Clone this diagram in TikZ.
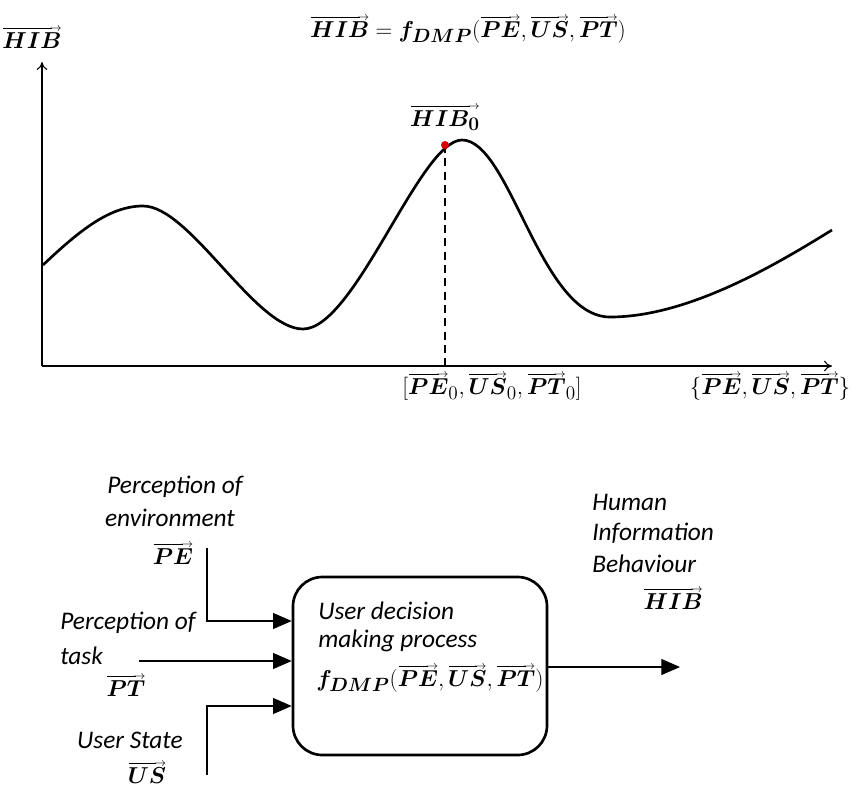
\documentclass[tikz,border=0pt]{standalone}
\usepackage{amsmath,bm}
\usepackage[no-math]{fontspec}
\newfontfamily\labfont{Carlito}
\usetikzlibrary{arrows.meta}
\newsavebox\vvbox
\newcommand{\vv}[1]{\mathord{\sbox\vvbox{$\bm{#1}$}\vbox{\offinterlineskip\hbox to\wd\vvbox{\kern0.5pt\leaders\hrule height 0.45pt depth 0.35pt\hfill\kern-2pt\smash{\raisebox{-2.3pt}{$\scriptscriptstyle\rightarrow$}}}\kern3pt\box\vvbox}}}
\begin{document}
\begin{tikzpicture}[x=0.75pt,y=-0.75pt,
  lab/.style={font=\labfont\itshape\fontsize{19}{22}\selectfont, inner sep=0pt},
  mth/.style={font=\fontsize{19}{22}\selectfont, inner sep=0pt},
  vec/.style={mth, text depth=0pt},
  axis/.style={line width=0.8pt, -{To[length=6pt,width=8pt]}},
  inarrow/.style={line width=0.8pt, -{Triangle[length=14pt,width=12pt]}},
  curve/.style={line width=2pt, line join=round},
  box/.style={draw, line width=2pt, rounded corners=22pt, minimum width=190.5pt, minimum height=133.5pt}]
\useasboundingbox (0,0) rectangle (857,793);
% axes
\coordinate (O) at (42,366);
\coordinate (ytop) at (42,62);
\coordinate (xend) at (832,366);
\draw[axis] (O) -- (ytop);
\draw[axis] (O) -- (xend);
\node[vec] (ylab) at (32,38) {$\vv{HIB}$};
\node[mth] (title) at (468,30) {$\vv{HIB} = \bm{f}_{\bm{DMP}}(\vv{PE},\vv{US},\vv{PT})$};
% curve
\draw[curve] (43,265) .. controls (80,230) and (110,206) .. (143,206)
  .. controls (190,206) and (255,329) .. (303,329)
  .. controls (355,329) and (420,140) .. (462,140)
  .. controls (510,140) and (540,317) .. (610,317)
  .. controls (690,317) and (780,262) .. (832,230);
\coordinate (peak) at (445,145);
\coordinate (foot) at (445,366);
\draw[dashed, line width=1.2pt, dash pattern=on 6pt off 4pt] (peak) -- (foot);
\fill[red!85!black] (peak) circle (3pt);
\node[vec] (hib0) at (445,116) {$\vv{HIB_{\bm 0}}$};
\node[mth] (x0) at (492,387) {$[\vv{PE}_0,\vv{US}_0,\vv{PT}_0]$};
\node[mth] (xl) at (770,387) {$\{\vv{PE},\vv{US},\vv{PT}\}$};
% bottom diagram
\node[box] (dmp) at (420,666) {};
\node[lab, anchor=west] (t1) at (318,611) {User decision};
\node[lab, anchor=west] (t2) at (318,641) {making process};
\node[mth, anchor=west] (t3) at (316,679) {$\bm{f}_{\bm{DMP}}(\vv{PE},\vv{US},\vv{PT})$};
% inputs
\node[lab] (pe1) at (175,487) {Perception of};
\node[lab] (pe2) at (170,518) {environment};
\node[vec] (pe3) at (173,554) {$\vv{PE}$};
\node[lab] (pt1) at (128,623) {Perception of};
\node[lab, anchor=west] (pt2) at (60,656) {task};
\node[vec] (pt3) at (126,686) {$\vv{PT}$};
\node[lab] (us1) at (130,740) {User State};
\node[vec] (us3) at (147,773) {$\vv{US}$};
\coordinate (pes) at (207,548);
\coordinate (pec) at (207,621);
\coordinate (pts) at (139,661);
\coordinate (uss) at (207,775);
\coordinate (usc) at (207,706);
\draw[inarrow] (pes) -- (pec) -- (dmp.west |- pec);
\draw[inarrow] (pts) -- (dmp.west |- pts);
\draw[inarrow] (uss) -- (usc) -- (dmp.west |- usc);
% output
\coordinate (outend) at (680,667);
\draw[inarrow] (dmp.east |- outend) -- (outend);
\node[lab, anchor=west] (h1) at (592,502) {Human};
\node[lab, anchor=west] (h2) at (592,533) {Information};
\node[lab, anchor=west] (h3) at (592,564) {Behaviour};
\node[vec, anchor=east] (h4) at (703,599) {$\vv{HIB}$};
\end{tikzpicture}
\end{document}
